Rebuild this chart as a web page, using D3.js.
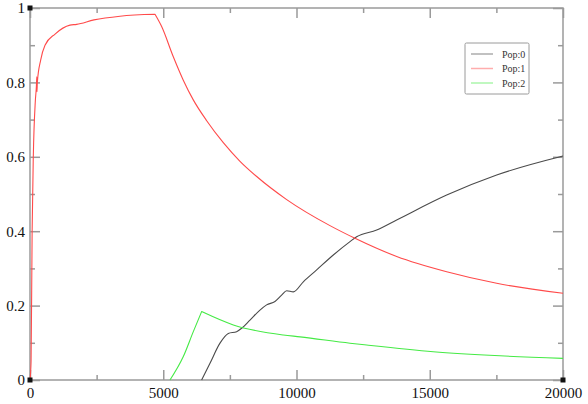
<!DOCTYPE html>
<html>
<head>
<meta charset="utf-8">
<script src="https://cdn.jsdelivr.net/npm/d3@7"></script>
<style>
	body { margin: 0; background: #fff; }
	svg { display: block; }
</style>
</head>
<body>
<div id="chart"></div>
<script>
// Values (x = time step, y = fraction).
var pop0 = [
	[6440, 0], [6754, 0.045], [7129, 0.099], [7441, 0.125], [7754, 0.130], [7941, 0.139],
	[8254, 0.161], [8629, 0.188], [8879, 0.202], [9192, 0.211], [9442, 0.228], [9632, 0.240],
	[9880, 0.237], [10256, 0.264], [10757, 0.296], [11381, 0.336], [12007, 0.372], [12257, 0.385],
	[13008, 0.403], [13759, 0.430], [15635, 0.497], [17511, 0.551], [20000, 0.602]
];
var pop1 = [
	[0, 0], [40, 0.05], [80, 0.4], [124, 0.6], [200, 0.75], [240, 0.79], [255, 0.815], [262, 0.775],
	[275, 0.80], [400, 0.86], [563, 0.90], [940, 0.93], [1500, 0.954], [1750, 0.956], [2400, 0.968],
	[3377, 0.978], [4690, 0.983], [4940, 0.950], [5377, 0.869], [5752, 0.806], [6127, 0.753],
	[6630, 0.697], [7253, 0.638], [7880, 0.588], [8506, 0.547], [9632, 0.485], [11256, 0.415],
	[12194, 0.381], [13759, 0.332], [15635, 0.291], [17511, 0.260], [20000, 0.233]
];
var pop2 = [
	[5253, 0], [5753, 0.063], [6128, 0.130], [6441, 0.184], [7629, 0.148], [9504, 0.121],
	[10131, 0.116], [12007, 0.099], [12633, 0.094], [15132, 0.076], [17636, 0.065], [20000, 0.058]
];
var seriesNames = [ 'Pop:0', 'Pop:1', 'Pop:2' ];
var seriesColors = [ '#4a4a4a', '#ff4a4a', '#45ea45' ];
var xTicks = [ 0, 5000, 10000, 15000, 20000 ];
var yTicks = [ 0, 0.2, 0.4, 0.6, 0.8, 1 ];

( function () {

	var width = 588, height = 404;
	var margins = { top: 8, left: 30, bottom: 24, right: 25 };
	var serif = 'Liberation Serif, DejaVu Serif, serif';

	var svg = d3.select( '#chart' ).append( 'svg' )
		.attr( 'width', width )
		.attr( 'height', height );

	var xScale = d3.scaleLinear().domain( [ 0, 20000 ] ).range( [ margins.left, width - margins.right ] );
	var yScale = d3.scaleLinear().domain( [ 0, 1 ] ).range( [ height - margins.bottom, margins.top ] );

	var x0 = xScale.range()[0], x1 = xScale.range()[1];
	var y0 = yScale.range()[0], y1 = yScale.range()[1];

	// Minor ticks every half step, major ones carry labels.
	var xMinor = d3.range( 0, 20001, 2500 ).filter( function ( d ) { return d % 5000 !== 0; } );
	var yMinor = d3.range( 0.1, 1, 0.2 );

	var tickStyle = function ( g ) {
		g.select( '.domain' ).remove();
		g.selectAll( '.tick line' ).attr( 'stroke', '#9a9a9a' ).attr( 'stroke-width', 1.5 );
		g.selectAll( '.tick text' )
			.style( 'font-family', serif )
			.style( 'font-size', '15px' )
			.attr( 'fill', '#111' );
	};

	// Bottom axis: ticks point into the plot.
	svg.append( 'g' )
		.attr( 'transform', 'translate( 0, ' + y0 + ' )' )
		.call( d3.axisBottom( xScale ).tickValues( xTicks ).tickSize( -10 ).tickPadding( 7 ).tickFormat( d3.format( 'd' ) ) )
		.call( tickStyle );

	svg.append( 'g' )
		.attr( 'transform', 'translate( 0, ' + y0 + ' )' )
		.call( d3.axisBottom( xScale ).tickValues( xMinor ).tickSize( -5 ).tickFormat( '' ) )
		.call( tickStyle );

	// Top axis.
	svg.append( 'g' )
		.attr( 'transform', 'translate( 0, ' + y1 + ' )' )
		.call( d3.axisTop( xScale ).tickValues( xTicks ).tickSize( -10 ).tickFormat( '' ) )
		.call( tickStyle );

	svg.append( 'g' )
		.attr( 'transform', 'translate( 0, ' + y1 + ' )' )
		.call( d3.axisTop( xScale ).tickValues( xMinor ).tickSize( -5 ).tickFormat( '' ) )
		.call( tickStyle );

	// Left axis with labels.
	svg.append( 'g' )
		.attr( 'transform', 'translate( ' + x0 + ', 0 )' )
		.call( d3.axisLeft( yScale ).tickValues( yTicks ).tickSize( -10 ).tickPadding( 5 ).tickFormat( d3.format( '' ) ) )
		.call( tickStyle );

	svg.append( 'g' )
		.attr( 'transform', 'translate( ' + x0 + ', 0 )' )
		.call( d3.axisLeft( yScale ).tickValues( yMinor ).tickSize( -5 ).tickFormat( '' ) )
		.call( tickStyle );

	// Right axis.
	svg.append( 'g' )
		.attr( 'transform', 'translate( ' + x1 + ', 0 )' )
		.call( d3.axisRight( yScale ).tickValues( yTicks ).tickSize( -10 ).tickFormat( '' ) )
		.call( tickStyle );

	svg.append( 'g' )
		.attr( 'transform', 'translate( ' + x1 + ', 0 )' )
		.call( d3.axisRight( yScale ).tickValues( yMinor ).tickSize( -5 ).tickFormat( '' ) )
		.call( tickStyle );

	// Frame.
	svg.append( 'rect' )
		.attr( 'x', x0 )
		.attr( 'y', y1 )
		.attr( 'width', x1 - x0 )
		.attr( 'height', y0 - y1 )
		.attr( 'fill', 'none' )
		.attr( 'stroke', '#9a9a9a' )
		.attr( 'stroke-width', 1.5 );

	// Lines. Smooth each side of a series' peak separately so the peak stays sharp.
	var line = d3.line()
		.curve( d3.curveMonotoneX )
		.x( function ( d ) { return xScale( d[0] ); } )
		.y( function ( d ) { return yScale( d[1] ); } );

	var peakedPath = function ( data ) {
		var top = d3.maxIndex( data, function ( d ) { return d[1]; } );
		if ( top <= 0 || top >= data.length - 1 ) {
			return line( data );
		}
		var rise = line( data.slice( 0, top + 1 ) );
		var fall = line( data.slice( top ) ).replace( /^M[^CL]*/, '' );
		return rise + fall;
	};

	[ pop0, pop1, pop2 ].forEach( function ( data, i ) {
		svg.append( 'path' )
			.attr( 'd', peakedPath( data ) )
			.attr( 'fill', 'none' )
			.attr( 'stroke', seriesColors[i] )
			.attr( 'stroke-width', 1.1 )
			.attr( 'stroke-linejoin', 'round' );
	} );

	// Little black squares at the axis corners.
	[ [ 0, 1 ], [ 0, 0 ], [ 20000, 0 ] ].forEach( function ( c ) {
		svg.append( 'rect' )
			.attr( 'x', xScale( c[0] ) - 2.5 )
			.attr( 'y', yScale( c[1] ) - 2.5 )
			.attr( 'width', 5 )
			.attr( 'height', 5 )
			.attr( 'fill', '#111' );
	} );

	// Legend.
	var legend = svg.append( 'g' ).attr( 'transform', 'translate( 465, 43 )' );

	legend.append( 'rect' )
		.attr( 'width', 64 )
		.attr( 'height', 51 )
		.attr( 'rx', 1.5 )
		.attr( 'fill', '#fff' )
		.attr( 'stroke', '#9a9a9a' )
		.attr( 'stroke-width', 1 );

	var item = legend.selectAll( 'g.item' )
		.data( seriesNames )
		.enter()
		.append( 'g' )
		.attr( 'class', 'item' )
		.attr( 'transform', function ( d, i ) { return 'translate( 0, ' + ( 11 + i * 14.5 ) + ' )'; } );

	item.append( 'line' )
		.attr( 'x1', 6 )
		.attr( 'x2', 28 )
		.attr( 'stroke', function ( d, i ) { return seriesColors[i]; } )
		.attr( 'stroke-opacity', 0.45 )
		.attr( 'stroke-width', 1.5 );

	item.append( 'text' )
		.attr( 'x', 37 )
		.attr( 'y', 3.5 )
		.style( 'font-family', serif )
		.style( 'font-size', '10px' )
		.attr( 'fill', '#333' )
		.text( function ( d ) { return d; } );

} )();
</script>
</body>
</html>
